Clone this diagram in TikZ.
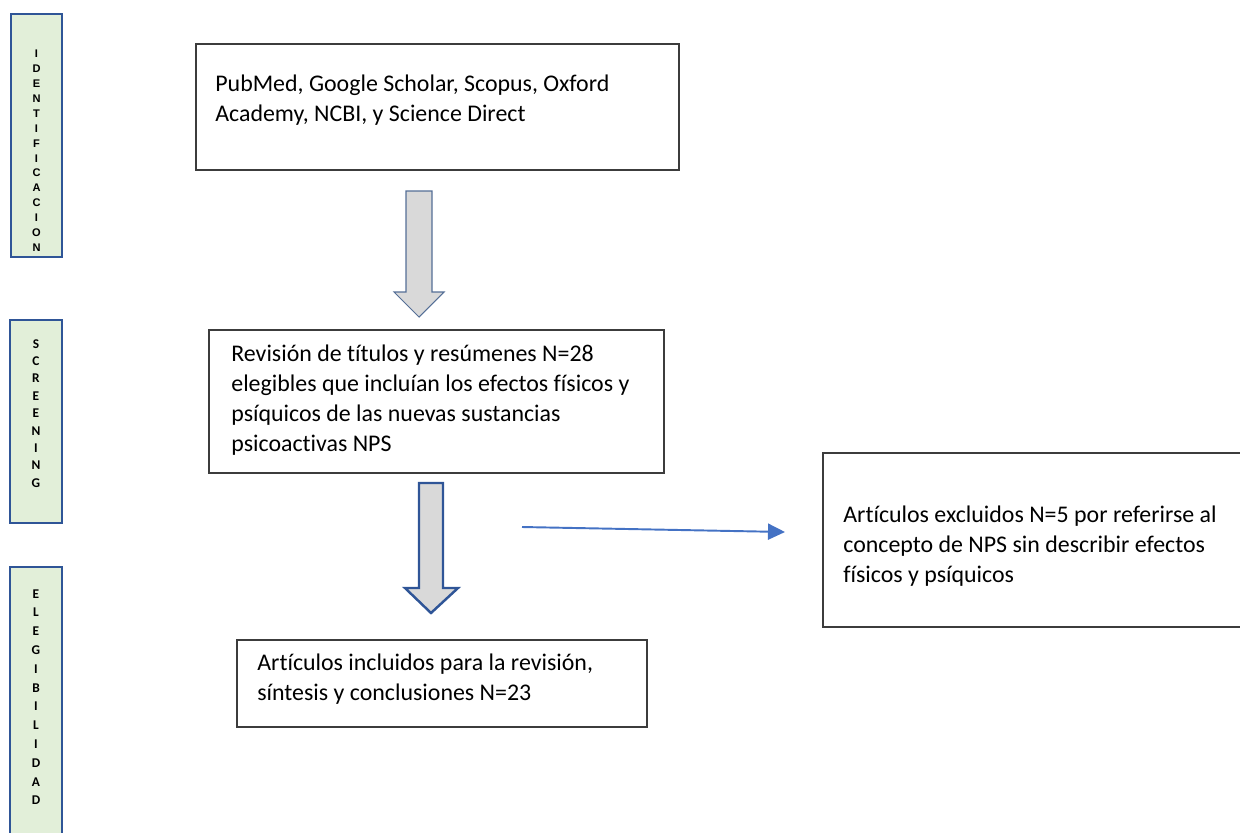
\documentclass[tikz,border=0pt]{standalone}
\usepackage{fontspec}
\setmainfont{Carlito}[Ligatures=NoCommon]
\newfontfamily\arialfont{Liberation Sans}
\usepackage{tikz}
\usetikzlibrary{positioning, arrows.meta, calc}
\usepackage{xcolor}
\definecolor{barfill}{RGB}{226,239,217}
\definecolor{barline}{RGB}{47,85,151}
\definecolor{boxline}{RGB}{60,60,60}
\definecolor{arrowfill}{RGB}{217,217,217}
\definecolor{arrowline}{RGB}{84,110,150}
\definecolor{linkblue}{RGB}{68,114,196}

\tikzset{
  box/.style 2 args={draw=boxline, line width=0.8pt, inner sep=0pt, outer sep=0pt,
    minimum width=#1*0.02cm, minimum height=#2*0.02cm},
  sidebar/.style 2 args={draw=barline, fill=barfill, line width=1.4pt, inner sep=0pt,
    minimum width=#1*0.02cm, minimum height=#2*0.02cm},
  txt/.style={anchor=north west, align=left, inner sep=0pt, font=\fontsize{13.6}{17}\selectfont},
  blockarrow/.style={draw=#1, fill=arrowfill, line join=miter},
  linkarrow/.style={draw=linkblue, line width=1.1pt, -{Triangle[length=0.34cm, width=0.32cm]}}
}

\begin{document}
\begin{tikzpicture}[x=0.02cm, y=-0.02cm]
\useasboundingbox (0,0) rectangle (1240,832);

% side bars
\node[sidebar={51}{243}] (ident) at (36.5,135.5) {};
\node[anchor=north, align=center, inner sep=0pt, font=\arialfont\bfseries\fontsize{6.3}{8.5}\selectfont] (ident-label) at (36.5,49.5)
  {I\\D\\E\\N\\T\\I\\F\\I\\C\\A\\C\\I\\O\\N};
\node[sidebar={52}{203}] (screen) at (36,421.5) {};
\node[anchor=north, align=center, inner sep=0pt, font=\bfseries\fontsize{7.6}{9.9}\selectfont] (screen-label) at (36,339)
  {S\\C\\R\\E\\E\\N\\I\\N\\G};
\node[sidebar={52}{300}] (elig) at (36,717) {};
\node[anchor=north, align=center, inner sep=0pt, font=\bfseries\fontsize{7.6}{10.7}\selectfont] (elig-label) at (36,589)
  {E\\L\\E\\G\\I\\B\\I\\L\\I\\D\\A\\D};

% boxes
\node[box={483}{126}] (src) at (437.5,107) {};
\node[txt] (src-text) at (215,75) {PubMed, Google Scholar, Scopus, Oxford\\Academy, NCBI, y Science Direct};

\node[box={455}{143}] (scr) at (436.5,401.5) {};
\node[txt] (scr-text) at (231,345) {Revisión de títulos y resúmenes N=28\\elegibles que incluían los efectos físicos y\\psíquicos de las nuevas sustancias\\psicoactivas NPS};

\node[box={437}{174}] (excl) at (1041.5,540) {};
\node[txt] (excl-text) at (843,506) {Artículos excluidos N=5 por referirse al\\concepto de NPS sin describir efectos\\físicos y psíquicos};

\node[box={410}{87}] (incl) at (442,683.5) {};
\node[txt] (incl-text) at (257,654) {Artículos incluidos para la revisión,\\síntesis y conclusiones N=23};

% block arrows
\draw[blockarrow=arrowline, line width=0.6pt] (406,191) -- (432,191) -- (432,292) -- (444,292) -- (419,317) -- (394,292) -- (406,292) -- cycle;
\draw[blockarrow=barline, line width=1.4pt] (419,483) -- (443,483) -- (443,588) -- (458,588) -- (431,613) -- (405,588) -- (419,588) -- cycle;

% excluded
\coordinate (excl-from) at (522,527);
\coordinate (excl-to) at (785,532);
\draw[linkarrow] (excl-from) -- (excl-to);
\end{tikzpicture}
\end{document}
